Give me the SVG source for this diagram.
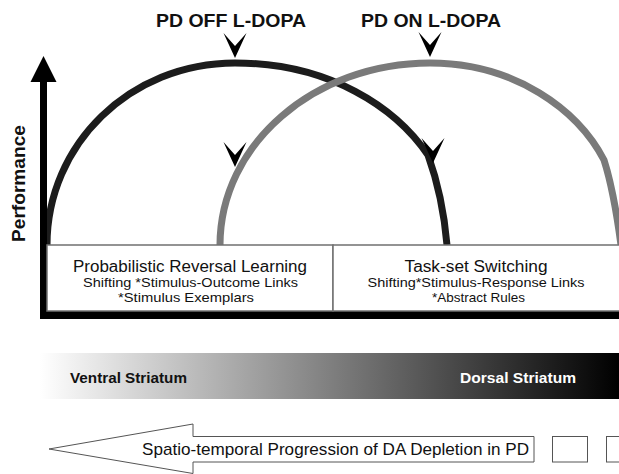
<svg xmlns="http://www.w3.org/2000/svg" width="619" height="474" viewBox="0 0 619 474">
<style>
.t{font-family:"Liberation Sans",Arial,sans-serif;fill:#111}
.b{font-weight:bold}
.curve{fill:none;stroke-width:7;stroke-linecap:butt}
.box{fill:#fff;stroke:#707070;stroke-width:1.5}
.outline{fill:#fff;stroke:#555;stroke-width:1}
</style>
<defs>
<path id="chev" d="M-11.5,-25 L0,-12 L11.5,-25 L0,0 Z" fill="#000"/>
<linearGradient id="grad" gradientUnits="userSpaceOnUse" x1="40" y1="0" x2="619" y2="0">
<stop offset="0" stop-color="#fff"/>
<stop offset="1" stop-color="#000"/>
</linearGradient>
</defs>
<rect width="619" height="474" fill="#fff"/>

<g id="connectors">
<path id="off-curve" class="curve" stroke="#1c1c1c" d="M47,245 C47,144.5 130,63 235,63 C330,63 396,108 428,155 C437,180 444,210 447,245"/>
<path id="on-curve" class="curve" stroke="#7a7a7a" d="M220,245 C220,144.5 314,63 430,63 C515,63 578,110 604,160 C612,185 617,215 621,245"/>
<use href="#chev" transform="translate(235,58)"/>
<use href="#chev" transform="translate(430,57)"/>
<use href="#chev" transform="translate(235,167)"/>
<use href="#chev" transform="translate(433,163)"/>
</g>

<g id="titles">
<text class="t b" x="156" y="27" font-size="18" textLength="150" lengthAdjust="spacingAndGlyphs">PD OFF L-DOPA</text>
<text class="t b" x="361" y="27" font-size="18" textLength="140" lengthAdjust="spacingAndGlyphs">PD ON L-DOPA</text>
</g>

<g id="axes">
<rect x="40" y="78" width="7" height="241" fill="#000"/>
<rect x="40" y="311" width="579" height="8" fill="#000"/>
<polygon points="43.5,56 30.5,82 56.5,82" fill="#000"/>
<text class="t b" font-size="19" text-anchor="middle" transform="translate(25,183.5) rotate(-90)" textLength="117" lengthAdjust="spacingAndGlyphs">Performance</text>
</g>

<g id="node-reversal">
<rect class="box" x="47" y="245" width="286" height="66"/>
<text class="t" x="190" y="271.5" font-size="16" text-anchor="middle" textLength="234" lengthAdjust="spacingAndGlyphs">Probabilistic Reversal Learning</text>
<text class="t" x="190.5" y="287" font-size="13" text-anchor="middle" textLength="215" lengthAdjust="spacingAndGlyphs">Shifting *Stimulus-Outcome Links</text>
<text class="t" x="186" y="302" font-size="13" text-anchor="middle" textLength="136" lengthAdjust="spacingAndGlyphs">*Stimulus Exemplars</text>
</g>

<g id="node-taskset">
<rect class="box" x="333" y="245" width="290" height="66"/>
<text class="t" x="476" y="271.5" font-size="16" text-anchor="middle" textLength="143" lengthAdjust="spacingAndGlyphs">Task-set Switching</text>
<text class="t" x="476" y="287" font-size="13" text-anchor="middle" textLength="217" lengthAdjust="spacingAndGlyphs">Shifting*Stimulus-Response Links</text>
<text class="t" x="478.5" y="302" font-size="13" text-anchor="middle" textLength="93" lengthAdjust="spacingAndGlyphs">*Abstract Rules</text>
</g>

<g id="node-striatum">
<rect x="40" y="353" width="579" height="46" fill="url(#grad)"/>
<text class="t b" x="70" y="383" font-size="15" textLength="117" lengthAdjust="spacingAndGlyphs">Ventral Striatum</text>
<text class="t b" x="460" y="383" font-size="15" style="fill:#fff" textLength="116" lengthAdjust="spacingAndGlyphs">Dorsal Striatum</text>
</g>

<g id="node-progression">
<polygon class="outline" points="49,449 193,424 193,436.5 534,436.5 534,462 193,462 193,473.5"/>
<text class="t" x="142" y="455" font-size="17" textLength="387" lengthAdjust="spacingAndGlyphs">Spatio-temporal Progression of DA Depletion in PD</text>
</g>
<g id="node-box1"><rect class="outline" x="552.5" y="436.5" width="35" height="25.5"/></g>
<g id="node-box2"><rect class="outline" x="606.5" y="436.5" width="30" height="25.5"/></g>
</svg>
